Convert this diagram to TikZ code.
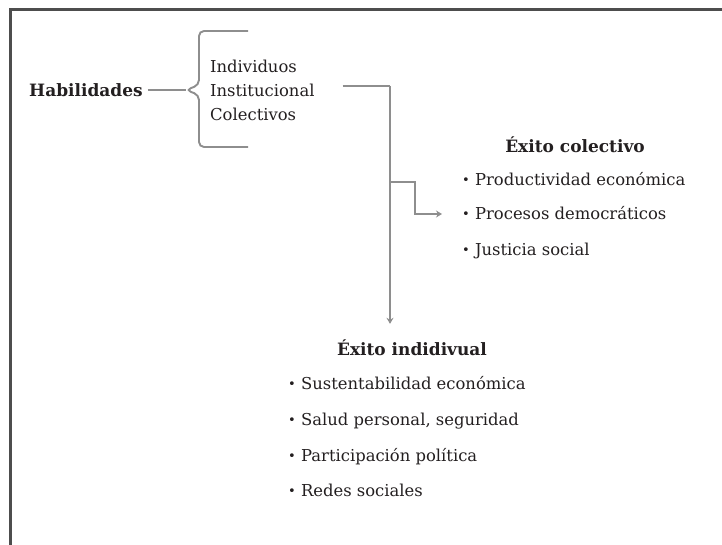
\documentclass[tikz,border=0pt]{standalone}
\usepackage{fontspec}
\setmainfont{DejaVu Serif}
\usetikzlibrary{calc,arrows.meta}

\definecolor{ink}{HTML}{231F20}
\definecolor{wire}{HTML}{8E8E8E}
\definecolor{edge}{HTML}{4D4D4D}

\newcommand{\itm}{\raisebox{1pt}{\fontsize{13}{10}\selectfont\textbullet}\ }

\begin{document}
\begin{tikzpicture}[x=1pt,y=-1pt,inner sep=0pt,
    every node/.style={text=ink,font=\fontsize{16.4}{24}\selectfont},
    head/.style={font=\fontsize{17}{20}\selectfont\bfseries},
    item/.style={anchor=base west},
    conn/.style={draw=wire,line width=1.9pt},
    >={Stealth[length=6pt,width=7pt]}]
    \useasboundingbox (0,0) rectangle (722,545);
    \draw[edge,line width=3pt] (722,10) -- (10,10) -- (10,545);

    \node[head,anchor=west] (H0) at (29,90) {Habilidades};
    \node[anchor=west,align=left] (L0) at (210,90) {Individuos\\Institucional\\Colectivos};

    \node[head] (C0) at (575,145) {Éxito colectivo};
    \node[item] (C1) at (462,186) {\itm Productividad económica};
    \node[item] (C2) at (462,220) {\itm Procesos democráticos};
    \node[item] (C3) at (462,255) {\itm Justicia social};

    \node[head] (I0) at (412,348) {Éxito indidivual};
    \node[item] (I1) at (288,389) {\itm Sustentabilidad económica};
    \node[item] (I2) at (288,425) {\itm Salud personal, seguridad};
    \node[item] (I3) at (288,461) {\itm Participación política};
    \node[item] (I4) at (288,496) {\itm Redes sociales};

    \coordinate (B0) at (186,90);
    \coordinate (J) at (390,86);

    \draw[conn,rounded corners=5pt] (248,31) -- (199,31) -- (199,85) -- (B0)
      -- (199,95) -- (199,147) -- (248,147);
    \draw[conn,shorten <=5pt] (H0) -- (B0);
    \draw[conn,shorten <=28pt] (L0.east |- J) -- (J);
    \draw[conn,->,shorten >=16pt] (J) -- (J |- I0.north);
    \draw[conn,->,shorten >=20pt] (J |- 0,182) -- ++(25,0) |- ([yshift=6pt]C2.base west);
\end{tikzpicture}
\end{document}
